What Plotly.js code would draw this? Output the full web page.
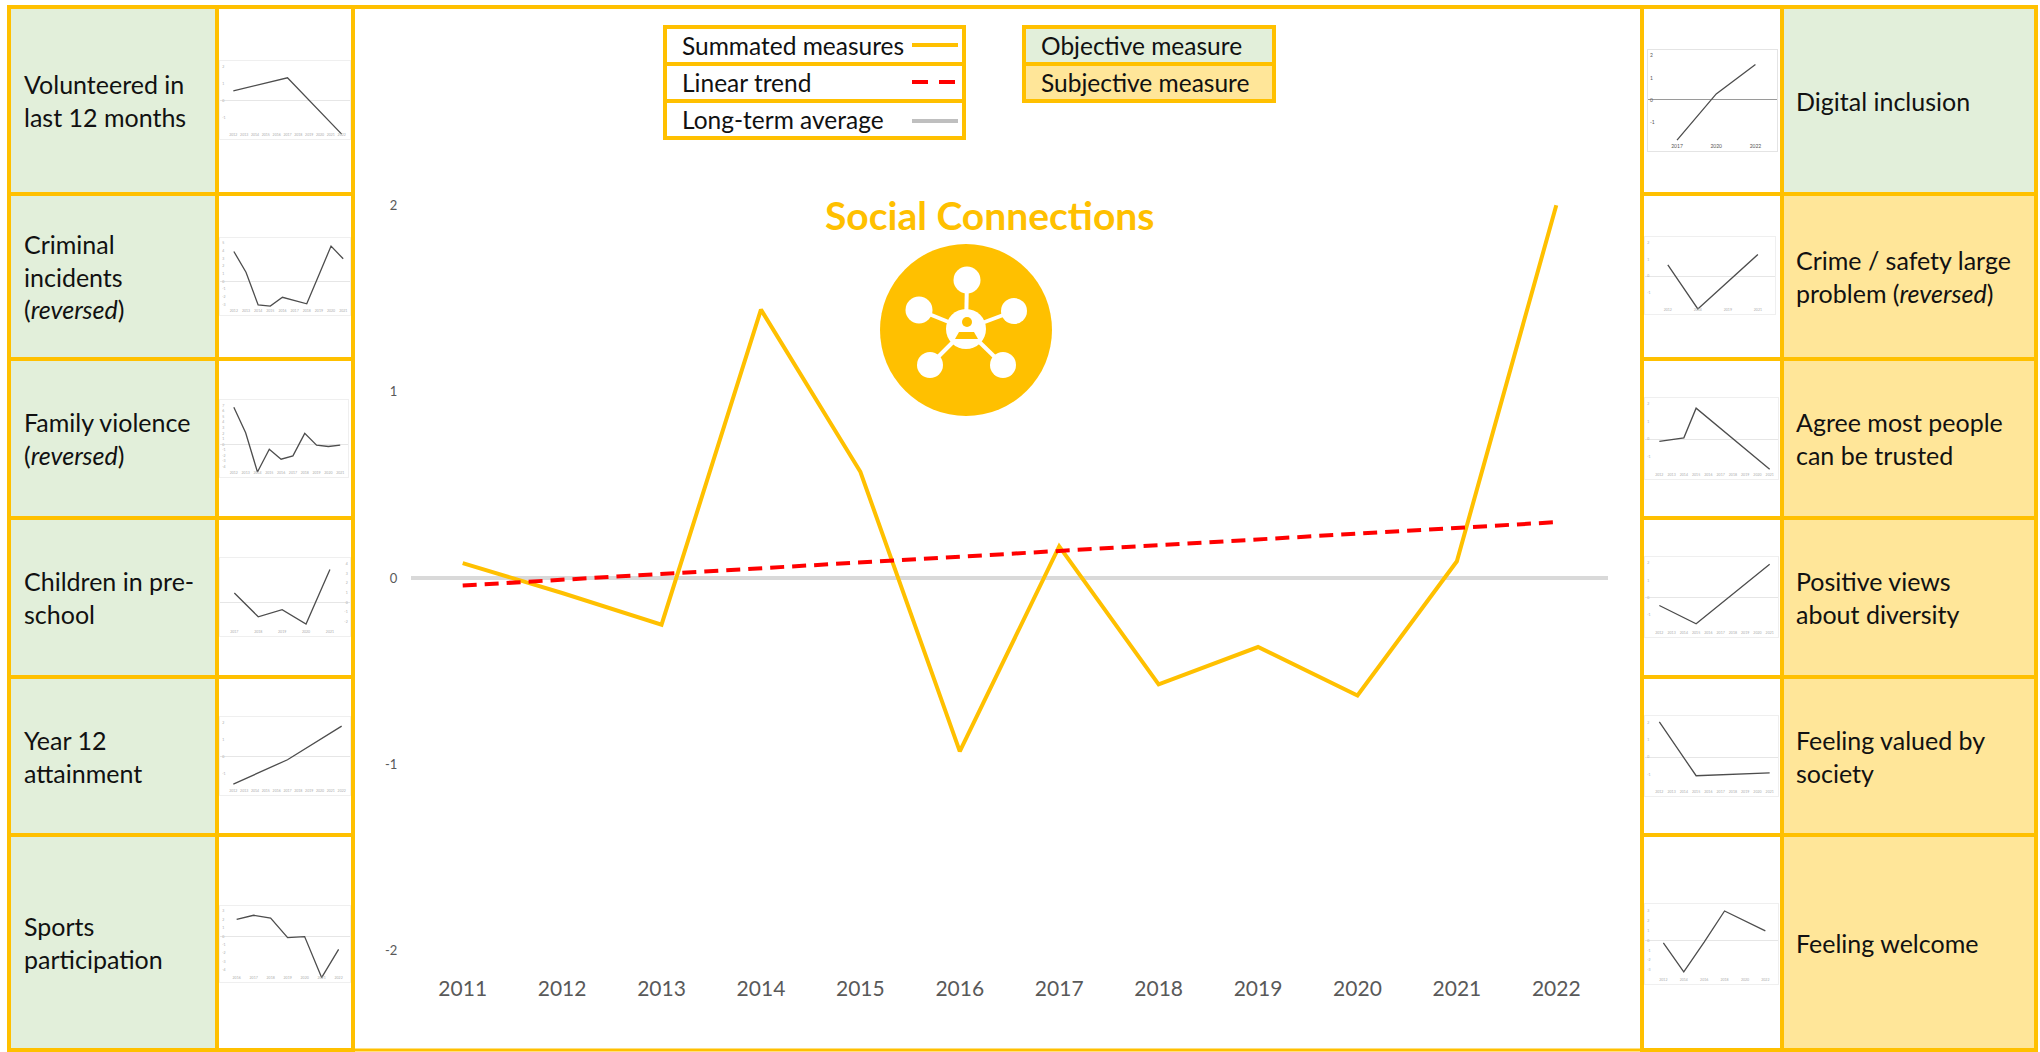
<!DOCTYPE html>
<html>
<head>
<meta charset="utf-8">
<script src="https://cdn.plot.ly/plotly-3.0.1.min.js"></script>
<style>html,body{margin:0;padding:0;background:#fff}#c{width:2040px;height:1052px}</style>
</head>
<body>
<div id="c"></div>
<script>
// ---------- main chart data ----------
var years = [2011,2012,2013,2014,2015,2016,2017,2018,2019,2020,2021,2022];
var summated = [0.08,-0.08,-0.25,1.44,0.57,-0.93,0.17,-0.57,-0.37,-0.63,0.09,2.0];
var trendYears = [2011,2022];
var trendValues = [-0.04,0.30];
var averageYears = [2010.48,2022.52];
var averageValues = [0,0];
var yTicks = [-2,-1,0,1,2];

// ---------- indicator small-multiple data ----------
var eleven = ['2012','2013','2014','2015','2016','2017','2018','2019','2020','2021','2022'];
var ten = ['2012','2013','2014','2015','2016','2017','2018','2019','2020','2021'];
var volunteerValues = [0.57,null,null,null,null,1.35,null,null,null,null,-2.0];
var criminalValues = [3.9,1.2,-3.05,-3.2,-2.05,-2.45,-2.9,0.85,4.6,2.95];
var familyValues = [6.7,2.1,-4.95,-0.85,-2.65,-2.05,2.0,-0.12,-0.36,-0.12];
var preschoolYears = ['2017','2018','2019','2020','2021'];
var preschoolValues = [0.98,-1.49,-0.76,-2.25,3.42];
var year12Values = [-1.63,null,null,null,null,-0.19,null,null,null,null,1.79];
var sportsYears = ['2016','2017','2018','2019','2020','2021','2022'];
var sportsValues = [2.02,2.51,2.18,-0.16,-0.04,-4.94,-1.56];
var digitalYears = ['2017','2020','2022'];
var digitalValues = [-1.83,0.27,1.6];
var crimeYears = ['2012','2014','2019','2021'];
var crimeValues = [0.68,-1.96,null,1.3];
var trustValues = [-0.12,null,0.08,1.77,null,null,null,null,null,-1.71];
var diversityValues = [-0.44,null,null,-1.5,null,null,null,null,null,1.94];
var valuedValues = [2.02,null,null,-1.06,null,null,null,null,null,-0.9];
var welcomeYears = ['2012','2014','2016','2018','2020','2022'];
var welcomeValues = [-0.25,-3.16,-0.18,2.95,null,0.95];

// ---------- text ----------
var leftLabels = ['Volunteered in<br>last 12 months','Criminal<br>incidents<br>(<i>reversed</i>)','Family violence<br>(<i>reversed</i>)','Children in pre-<br>school','Year 12<br>attainment','Sports<br>participation'];
var rightLabels = ['Digital inclusion','Crime / safety large<br>problem (<i>reversed</i>)','Agree most people<br>can be trusted','Positive views<br>about diversity','Feeling valued by<br>society','Feeling welcome'];
var legendLabels = ['Summated measures','Linear trend','Long-term average'];
var keyLabels = ['Objective measure','Subjective measure'];
var titleText = 'Social Connections';

// ---------- styling & page geometry ----------
var W = 2040, H = 1052;
var GOLD = '#FFC000', GREEN = '#E2EFDA', AMBER = '#FFE699', RED = '#FF0000', GREY = '#D9D9D9';
var FONT = 'Lato, "Open Sans", sans-serif';
var rowEdges = [7,194,359,518,677,835,1050];
var lw = 4;
function px(x){return x/W;}
function py(y){return 1-y/H;}

var shapes = [], annotations = [], data = [];
function rect(x0,y0,x1,y1,fill,line,layer){
  shapes.push({type:'rect',xref:'paper',yref:'paper',x0:px(x0),x1:px(x1),y0:py(y0),y1:py(y1),
    fillcolor:fill||'rgba(0,0,0,0)',line:{color:line||'rgba(0,0,0,0)',width:line?lw:0},layer:layer||'below'});
}
function seg(x0,y0,x1,y1,color,width,dash){
  shapes.push({type:'line',xref:'paper',yref:'paper',x0:px(x0),x1:px(x1),y0:py(y0),y1:py(y1),
    line:{color:color,width:width,dash:dash||'solid'},layer:'above'});
}
function disc(cx,cy,r,fill){
  shapes.push({type:'circle',xref:'paper',yref:'paper',x0:px(cx-r),x1:px(cx+r),y0:py(cy+r),y1:py(cy-r),
    fillcolor:fill,line:{width:0},layer:'above'});
}
function label(x,y,text,size,opts){
  opts=opts||{};
  annotations.push({xref:'paper',yref:'paper',x:px(x),y:py(y),text:text,showarrow:false,
    xanchor:opts.anchor||'left',yanchor:'middle',align:opts.anchor==='center'?'center':'left',
    font:{family:FONT,size:size,color:opts.color||'#111111'}});
}

// cells
var leftKinds = [GREEN,GREEN,GREEN,GREEN,GREEN,GREEN];
var rightKinds = [GREEN,AMBER,AMBER,AMBER,AMBER,AMBER];
for (var i=0;i<6;i++){
  var y0=rowEdges[i], y1=rowEdges[i+1], yc=(y0+y1)/2;
  rect(9,y0,217,y1,leftKinds[i],GOLD);
  rect(217,y0,353,y1,'#FFFFFF',GOLD);
  rect(1642,y0,1782,y1,'#FFFFFF',GOLD);
  rect(1782,y0,2036,y1,rightKinds[i],GOLD);
  label(22,yc,leftLabels[i],25);
  label(1794,yc,rightLabels[i],25);
}
seg(353,7,1642,7,GOLD,lw);
seg(353,1050,1642,1050,GOLD,3);

// legend boxes
var legendRows=[27,64,101,138];
for (var j=0;j<3;j++){
  rect(665,legendRows[j],964,legendRows[j+1],'#FFFFFF',GOLD,'above');
  label(680,(legendRows[j]+legendRows[j+1])/2,legendLabels[j],24.5);
}
seg(912,45,958,45,GOLD,4);
seg(912,82,958,82,RED,4,'16px,11px');
seg(912,121,958,121,'#BFBFBF',4);
rect(1024,27,1274,64,GREEN,GOLD,'above');
rect(1024,64,1274,101,AMBER,GOLD,'above');
label(1039,46,keyLabels[0],24.5);
label(1039,83,keyLabels[1],24.5);

// title & icon
label(989,215,'<b>'+titleText+'</b>',39,{anchor:'center',color:GOLD});
var ix=966, iy=330;
disc(ix,iy,86,GOLD);
var spokes=[[1,-50,13.5],[-47,-20,13.5],[48,-19,13],[-36,35,13],[37,35,13]];
spokes.forEach(function(s){ seg(ix,iy-1,ix+s[0],iy+s[1],'#FFFFFF',4); });
spokes.forEach(function(s){ disc(ix+s[0],iy+s[1],s[2],'#FFFFFF'); });
disc(ix,iy-1,20,'#FFFFFF');
disc(ix+1,iy-8,5,GOLD);
shapes.push({type:'path',xref:'paper',yref:'paper',layer:'above',fillcolor:GOLD,line:{width:0},
  path:'M'+px(ix-11)+','+py(iy+9)+' L'+px(ix+12)+','+py(iy+9)+' L'+px(ix+8)+','+py(iy+2)+' L'+px(ix-7)+','+py(iy+2)+' Z'});

// main chart
data.push({x:averageYears,y:averageValues,type:'scatter',mode:'lines',name:legendLabels[2],line:{color:GREY,width:4},hoverinfo:'skip',showlegend:false});
data.push({x:years,y:summated,type:'scatter',mode:'lines',name:legendLabels[0],line:{color:GOLD,width:4},showlegend:false});
data.push({x:trendYears,y:trendValues,type:'scatter',mode:'lines',name:legendLabels[1],line:{color:RED,width:4,dash:'14px,8px'},showlegend:false});

var layout = {
  width:W,height:H,margin:{l:0,r:0,t:0,b:0},paper_bgcolor:'#FFFFFF',plot_bgcolor:'rgba(0,0,0,0)',
  showlegend:false,shapes:shapes,annotations:annotations,font:{family:FONT},
  xaxis:{domain:[px(411),px(1608)],range:[2010.48,2022.52],tickmode:'array',tickvals:years,ticktext:years.map(String),
    tickfont:{family:FONT,size:21,color:'#595959'},showgrid:false,zeroline:false,showline:false,ticks:'outside',ticklen:10,tickcolor:'rgba(0,0,0,0)',anchor:'y',fixedrange:true},
  yaxis:{domain:[py(960),py(170)],range:[-2.049,2.189],tickmode:'array',tickvals:yTicks,ticktext:yTicks.map(String),
    tickfont:{family:FONT,size:13,color:'#595959'},showgrid:false,zeroline:false,showline:false,ticks:'outside',ticklen:10,tickcolor:'rgba(0,0,0,0)',anchor:'x',fixedrange:true}
};

// small multiples: frame box in page pixels, and axis windows
var thumbs = [
 {cats:eleven,vals:volunteerValues,box:[220,61,350,139],xr:[-1.23,10.77],yr:[-2.29,2.35],yt:[-2,-1,0,1,2]},
 {cats:ten,vals:criminalValues,box:[220,238,350,315],xr:[-1.14,9.56],yr:[-4.35,5.65],yt:[-4,-3,-2,-1,0,1,2,3,4,5]},
 {cats:ten,vals:familyValues,box:[220,400,348,477],xr:[-1.17,9.66],yr:[-5.85,8],yt:[-5,-4,-3,-2,-1,0,1,2,3,4,5,6,7]},
 {cats:preschoolYears,vals:preschoolValues,box:[220,558,350,636],xr:[-0.6,4.84],yr:[-3.49,4.62],yt:[-3,-2,-1,0,1,2,3,4],side:'right'},
 {cats:eleven,vals:year12Values,box:[220,717,350,795],xr:[-1.23,10.77],yr:[-2.27,2.33],yt:[-2,-1,0,1,2]},
 {cats:sportsYears,vals:sportsValues,box:[220,906,350,982],xr:[-0.98,6.67],yr:[-5.47,3.62],yt:[-5,-4,-3,-2,-1,0,1,2,3]},
 {cats:digitalYears,vals:digitalValues,box:[1648,50,1777,151],xr:[-0.74,2.55],yr:[-2.32,2.26],yt:[-2,-1,0,1,2],dark:true},
 {cats:crimeYears,vals:crimeValues,box:[1645,237,1775,314],xr:[-0.76,3.57],yr:[-2.26,2.34],yt:[-2,-1,0,1,2]},
 {cats:ten,vals:trustValues,box:[1645,398,1778,479],xr:[-1.17,9.68],yr:[-2.27,2.35],yt:[-2,-1,0,1,2]},
 {cats:ten,vals:diversityValues,box:[1645,557,1778,637],xr:[-1.17,9.68],yr:[-2.26,2.36],yt:[-2,-1,0,1,2]},
 {cats:ten,vals:valuedValues,box:[1645,716,1778,796],xr:[-1.17,9.68],yr:[-2.22,2.36],yt:[-2,-1,0,1,2]},
 {cats:welcomeYears,vals:welcomeValues,box:[1645,904,1778,984],xr:[-0.9,5.62],yr:[-4.39,3.65],yt:[-4,-3,-2,-1,0,1,2,3]}
];
thumbs.forEach(function(t,k){
  var n=k+2, xa='x'+n, ya='y'+n;
  var frame=t.dark?'#E4E4E4':'#EFEFEF', tick=t.dark?'#555555':'#ABABAB', zero=t.dark?'#9A9A9A':'#E6E6E6';
  data.push({x:t.cats,y:t.vals,xaxis:xa,yaxis:ya,type:'scatter',mode:'lines',connectgaps:true,
    line:{color:'#4D4D4D',width:1.3},showlegend:false});
  layout['xaxis'+n]={type:'category',categoryorder:'array',categoryarray:t.cats,domain:[px(t.box[0]),px(t.box[2])],range:t.xr,anchor:ya,
    tickmode:'array',tickvals:t.cats,ticktext:t.cats,tickangle:0,ticklabelposition:'inside',ticklen:0,showgrid:false,zeroline:false,
    showline:true,mirror:true,linecolor:frame,linewidth:1,tickfont:{family:FONT,size:t.dark?5:3.5,color:tick},fixedrange:true};
  layout['yaxis'+n]={domain:[py(t.box[3]),py(t.box[1])],range:t.yr,anchor:xa,side:t.side||'left',
    tickmode:'array',tickvals:t.yt,ticktext:t.yt.map(String),ticklabelposition:'inside',ticklen:0,showgrid:false,
    zeroline:true,zerolinecolor:zero,zerolinewidth:1,showline:true,mirror:true,linecolor:frame,linewidth:1,
    tickfont:{family:FONT,size:t.dark?5:3.5,color:tick},fixedrange:true};
});

Plotly.newPlot('c',data,layout,{displayModeBar:false,staticPlot:true});
</script>
</body>
</html>
